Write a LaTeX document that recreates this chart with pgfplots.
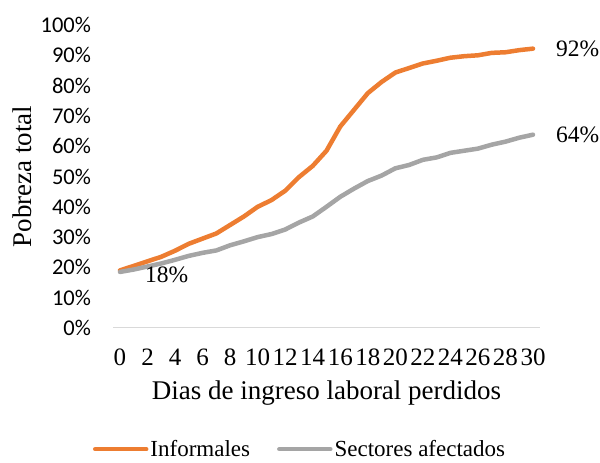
\documentclass[border=0pt]{standalone}
\usepackage{fontspec}
\setmainfont{Liberation Serif}
\newfontfamily\calibri{Carlito}
\usepackage{pgfplots}
\pgfplotsset{compat=1.18}
\definecolor{orng}{HTML}{ED7D31}
\definecolor{gry}{HTML}{A5A5A5}
\definecolor{axgray}{HTML}{D9D9D9}
\begin{document}
\begin{tikzpicture}[x=1pt,y=1pt]
\path[use as bounding box] (0,0) rectangle (600,463);
\begin{axis}[
  at={(113.1pt,135pt)}, anchor=south west,
  scale only axis, width=426.8pt, height=303pt,
  xmin=-0.5, xmax=30.5, ymin=0, ymax=100,
  axis line style={draw=none},
  major tick length=0pt, tick style={draw=none},
  clip=false,
  xtick={0,2,...,30},
  xticklabels={0,2,4,6,8,10,12,14,16,18,20,22,24,26,28,30},
  xticklabel style={anchor=center, yshift=-29pt, inner sep=0pt, font=\fontsize{25}{25}\selectfont},
  ytick={0,10,...,100},
  yticklabels={0\%,10\%,20\%,30\%,40\%,50\%,60\%,70\%,80\%,90\%,100\%},
  yticklabel style={anchor=east, xshift=-22pt, inner sep=0pt, font=\calibri\fontsize{22.5}{22.5}\selectfont},
  xlabel={Dias de ingreso laboral perdidos},
  ylabel={Pobreza total},
  every axis x label/.style={at={(axis description cs:0.5,-0.2145)}, anchor=center, font=\fontsize{27}{27}\selectfont},
  every axis y label/.style={at={(axis description cs:-0.213,0.5)}, rotate=90, anchor=center, font=\fontsize{27}{27}\selectfont},
  legend columns=2,
  legend style={at={(axis description cs:0.438,-0.400)}, anchor=center, draw=none, fill=none,
    font=\fontsize{23}{23}\selectfont, inner sep=0pt,
    /tikz/every even column/.append style={column sep=25pt}},
  legend image code/.code={\draw[#1] (0pt,0pt) -- (51pt,0pt);},
  every axis plot/.append style={line width=4.5pt, line cap=round, line join=round},
]
\draw[axgray, line width=1pt] (rel axis cs:0,0) -- (rel axis cs:1,0);
\addplot[orng, mark=none] coordinates {
(0,19) (1,20.5) (2,22) (3,23.5) (4,25.5) (5,27.8) (6,29.5) (7,31.2) (8,34) (9,36.8)
(10,40) (11,42.2) (12,45.3) (13,49.8) (14,53.5) (15,58.5) (16,66.5) (17,72) (18,77.5) (19,81.2)
(20,84.3) (21,85.8) (22,87.3) (23,88.2) (24,89.2) (25,89.7) (26,90) (27,90.8) (28,91) (29,91.7) (30,92.2)
};
\addlegendentry{Informales}
\addplot[gry, mark=none] coordinates {
(0,18.5) (1,19.3) (2,20.3) (3,21.3) (4,22.5) (5,23.8) (6,24.8) (7,25.6) (8,27.3) (9,28.6)
(10,30) (11,31) (12,32.5) (13,34.8) (14,36.8) (15,40) (16,43.3) (17,46) (18,48.5) (19,50.3)
(20,52.7) (21,53.8) (22,55.5) (23,56.3) (24,57.8) (25,58.5) (26,59.2) (27,60.5) (28,61.5) (29,62.8) (30,63.8)
};
\addlegendentry{Sectores afectados}
\node[anchor=west, xshift=23pt, inner sep=0pt, font=\fontsize{23.5}{23.5}\selectfont] at (axis cs:30,92.2) {92\%};
\node[anchor=west, xshift=23pt, inner sep=0pt, font=\fontsize{23.5}{23.5}\selectfont] at (axis cs:30,63.8) {64\%};
\node[anchor=west, xshift=25pt, yshift=-3pt, inner sep=0pt, font=\fontsize{23.5}{23.5}\selectfont] at (axis cs:0,18.5) {18\%};
\end{axis}
\end{tikzpicture}
\end{document}
